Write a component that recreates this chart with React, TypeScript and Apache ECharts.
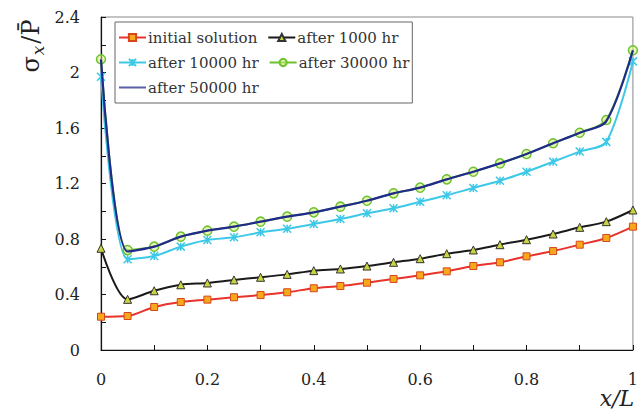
import { useEffect, useRef } from "react";
import * as echarts from "echarts";

// Position along the member, x/L
const xPositions = [0, 0.05, 0.1, 0.15, 0.2, 0.25, 0.3, 0.35, 0.4, 0.45, 0.5, 0.55, 0.6, 0.65, 0.7, 0.75, 0.8, 0.85, 0.9, 0.95, 1];

// Normalised stress sigma_x / P-bar
const initialSolution = [0.24, 0.245, 0.31, 0.346, 0.363, 0.38, 0.396, 0.416, 0.445, 0.461, 0.485, 0.512, 0.538, 0.567, 0.605, 0.632, 0.675, 0.713, 0.759, 0.807, 0.889];
const after1000 = [0.733, 0.365, 0.427, 0.47, 0.483, 0.505, 0.524, 0.545, 0.572, 0.584, 0.605, 0.632, 0.658, 0.694, 0.721, 0.759, 0.795, 0.836, 0.884, 0.925, 1.009];
const after10000 = [1.97, 0.654, 0.677, 0.745, 0.793, 0.812, 0.848, 0.874, 0.908, 0.944, 0.985, 1.021, 1.069, 1.115, 1.168, 1.22, 1.285, 1.357, 1.43, 1.5, 2.08];
const after30000 = [2.095, 0.72, 0.745, 0.817, 0.86, 0.889, 0.925, 0.961, 0.992, 1.033, 1.076, 1.129, 1.17, 1.23, 1.285, 1.345, 1.413, 1.49, 1.566, 1.658, 2.16];
const after50000 = [2.095, 0.71, 0.745, 0.817, 0.86, 0.889, 0.925, 0.961, 0.992, 1.033, 1.076, 1.129, 1.17, 1.23, 1.285, 1.345, 1.413, 1.49, 1.566, 1.65, 2.16];

const seriesNames = ["initial solution", "after 1000 hr", "after 10000 hr", "after 30000 hr", "after 50000 hr"];

const xTickLabels = ["0", "0.2", "0.4", "0.6", "0.8", "1"];
const yTickLabels = ["0", "0.4", "0.8", "1.2", "1.6", "2", "2.4"];

const SERIF = "'DejaVu Serif', 'Liberation Serif', serif";

const pairs = (ys: number[]) => ys.map((y, i) => [xPositions[i], y]);

export default function App() {
  const ref = useRef<HTMLDivElement>(null);

  useEffect(() => {
    const chart = echarts.init(ref.current!, null, { renderer: "svg" });

    const xLabel = (v: number) => {
      const k = Math.round(v * 10);
      if (k % 2 !== 0) return "";
      return xTickLabels[k / 2] ?? "";
    };
    const yLabel = (v: number) => {
      const k = Math.round(v * 5);
      if (k % 2 !== 0) return "";
      return yTickLabels[k / 2] ?? "";
    };

    chart.setOption({
      animation: false,
      backgroundColor: "#ffffff",
      grid: { left: 101, right: 3, top: 17, bottom: 62, containLabel: false, show: true, borderColor: "#888", borderWidth: 1 },
      legend: {
        left: 115,
        top: 22,
        width: 298,
        orient: "horizontal",
        padding: [8, 3, 8, 3],
        itemGap: 10,
        itemWidth: 27,
        itemHeight: 9,
        borderColor: "#666",
        borderWidth: 1,
        backgroundColor: "#fff",
        data: [
          seriesNames[0],
          seriesNames[1],
          seriesNames[2],
          seriesNames[3],
          { name: seriesNames[4], itemStyle: { opacity: 0 }, lineStyle: { color: "#5a5fa8", width: 2 } },
        ],
        textStyle: { fontFamily: SERIF, fontSize: 15, color: "#333", padding: [0, 0, 0, -3] },
      },
      xAxis: {
        type: "value",
        min: 0,
        max: 1,
        interval: 0.1,
        splitLine: { show: false },
        axisLine: { show: true, onZero: false, lineStyle: { color: "#111", width: 1.2 } },
        axisTick: { show: true, inside: true, length: 5, lineStyle: { color: "#111" } },
        axisLabel: { formatter: xLabel, margin: 21, fontFamily: SERIF, fontSize: 16, color: "#222", showMinLabel: true, showMaxLabel: true },
      },
      yAxis: {
        type: "value",
        min: 0,
        max: 2.4,
        interval: 0.2,
        splitLine: { show: false },
        axisLine: { show: true, onZero: false, lineStyle: { color: "#111", width: 1.2 } },
        axisTick: { show: true, inside: true, length: 5, lineStyle: { color: "#111" } },
        axisLabel: { formatter: yLabel, margin: 21, fontFamily: SERIF, fontSize: 16, color: "#222" },
      },
      graphic: [
        {
          type: "text",
          x: 31,
          y: 46,
          rotation: Math.PI / 2,
          style: {
            text: "{s|σ}{sub|x}{s|/P\u0304}",
            align: "center",
            verticalAlign: "middle",
            rich: {
              s: { fontFamily: SERIF, fontSize: 24, fill: "#222", verticalAlign: "middle", lineHeight: 30 },
              sub: { fontFamily: SERIF, fontSize: 17, fontStyle: "italic", fill: "#222", verticalAlign: "bottom", lineHeight: 30, padding: [10, 2, 0, 1] },
            },
          },
        },
        {
          type: "text",
          x: 617,
          y: 398,
          style: {
            text: "x/L",
            align: "center",
            verticalAlign: "middle",
            fontFamily: SERIF,
            fontSize: 22,
            fontStyle: "italic",
            fill: "#222",
          },
        },
      ],
      series: [
        {
          name: seriesNames[0],
          type: "line",
          data: pairs(initialSolution),
          smooth: 0.3,
          symbol: "rect",
          symbolSize: 7,
          lineStyle: { color: "#e8332a", width: 2 },
          itemStyle: { color: "#f7a81b", borderColor: "#d4471c", borderWidth: 1 },
          z: 2,
        },
        {
          name: seriesNames[1],
          type: "line",
          data: pairs(after1000),
          smooth: 0.3,
          symbol: "triangle",
          symbolSize: 8,
          lineStyle: { color: "#1a1a1a", width: 2 },
          itemStyle: { color: "#c9d43f", borderColor: "#333", borderWidth: 1 },
          z: 3,
        },
        {
          name: seriesNames[2],
          type: "line",
          data: pairs(after10000),
          smooth: 0.3,
          symbol: "path://M0,0L10,10M10,0L0,10M5,0L5,10",
          symbolSize: 8,
          lineStyle: { color: "#3cc8e6", width: 2 },
          itemStyle: { color: "#3cc8e6", borderColor: "#3cc8e6", borderWidth: 1.5 },
          z: 4,
        },
        {
          name: seriesNames[3],
          type: "line",
          data: pairs(after30000),
          smooth: 0.3,
          symbol: "circle",
          symbolSize: 9,
          lineStyle: { color: "#6cc12f", width: 2 },
          itemStyle: { color: "rgba(214,238,120,0.55)", borderColor: "#6cc12f", borderWidth: 1.5 },
          z: 5,
        },
        {
          name: seriesNames[4],
          type: "line",
          data: pairs(after50000),
          smooth: 0.3,
          symbol: "none",
          lineStyle: { color: "#1f2a8c", width: 2.2 },
          itemStyle: { color: "#1f2a8c" },
          z: 6,
        },
      ],
    });

    return () => chart.dispose();
  }, []);

  return <div ref={ref} style={{ position: "absolute", left: 0, top: 0, width: 641, height: 412 }} />;
}
